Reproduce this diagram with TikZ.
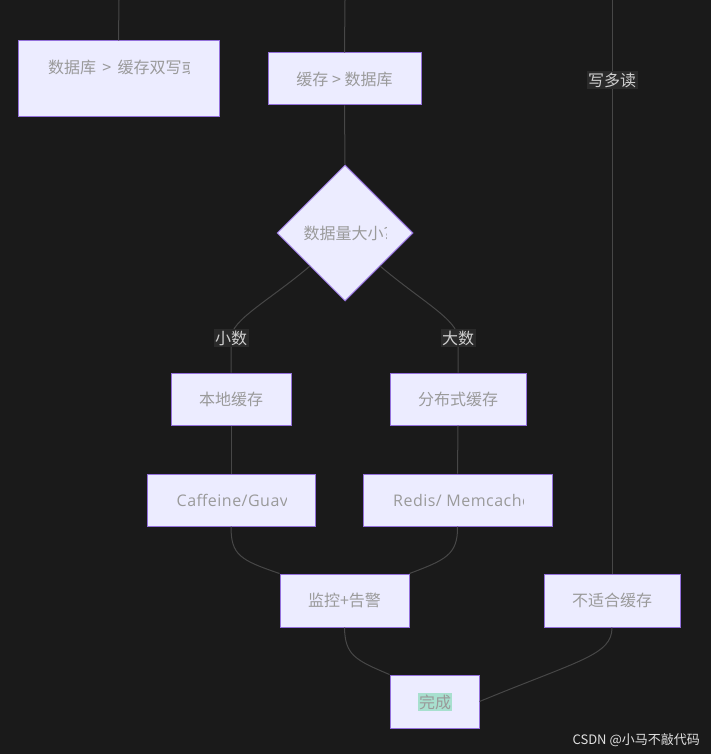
\documentclass[tikz,border=0pt]{standalone}
\usepackage{fontspec}
\setmainfont{Noto Sans CJK SC}
\newfontfamily\latinfont[LetterSpace=3]{Open Sans}
\usetikzlibrary{shapes.geometric}
\definecolor{bgc}{HTML}{1A1A1A}
\definecolor{boxfill}{HTML}{ECECFF}
\definecolor{boxline}{HTML}{9370DB}
\definecolor{txtc}{HTML}{9A9A9A}
\definecolor{edgec}{HTML}{474747}
\definecolor{lblbg}{HTML}{2A2A2A}
\definecolor{lbltxt}{HTML}{CFCFCF}
\definecolor{donebg}{HTML}{A8E0CF}
\tikzset{
  box/.style={draw=boxline, fill=boxfill, line width=1pt, rectangle, inner sep=0pt, text=txtc, font=\fontsize{16}{19}\selectfont},
  dia/.style={draw=boxline, fill=boxfill, line width=1pt, diamond, aspect=1, inner sep=0pt, minimum width=136pt, minimum height=136pt},
  txt/.style={text=txtc, font=\fontsize{16}{19}\selectfont, inner sep=0pt},
  lbl/.style={fill=lblbg, text=lbltxt, font=\fontsize{16}{19}\selectfont, inner sep=1.5pt},
  edge/.style={draw=edgec, line width=1pt},
}
\begin{document}
\begin{tikzpicture}[x=1pt, y=-1pt]
\useasboundingbox (0,0) rectangle (711,754);
\fill[bgc] (0,0) rectangle (711,754);
% top free ends
\coordinate (t1) at (119,0);
\coordinate (t2) at (345,0);
\coordinate (t3) at (612,0);
% nodes
\node[box, minimum width=201pt, minimum height=76pt] (b1) at (118.5,79) {};
\node[box, minimum width=153pt, minimum height=52pt] (b2) at (344.5,79) {缓存 > 数据库};
\node[dia] (d) at (345,233) {};
\node[box, minimum width=120pt, minimum height=52pt] (local) at (231,399) {本地缓存};
\node[box, minimum width=136pt, minimum height=52pt] (dist) at (458,399) {分布式缓存};
\node[box, minimum width=168pt, minimum height=52pt] (caf) at (231,500) {};
\node[box, minimum width=189pt, minimum height=52pt] (red) at (457.5,500) {};
\node[box, minimum width=129pt, minimum height=53pt] (mon) at (344.5,600.5) {监控+告警};
\node[box, minimum width=136pt, minimum height=53pt] (nofit) at (612,600.5) {不适合缓存};
\node[box, minimum width=89pt, minimum height=53pt] (done) at (434.5,701.5) {};
% clipped texts
\begin{scope}
\clip (40,55) rectangle (189.5,85);
\node[txt, anchor=west] (t1txt) at (48,67) {数据库 \,>\, 缓存双写或};
\end{scope}
\begin{scope}
\clip (295,218) rectangle (386,248);
\node[txt, anchor=west] (dtxt) at (303.5,233) {数据量大小?};
\end{scope}
\begin{scope}
\clip (170,485) rectangle (286,515);
\node[txt, anchor=west, font=\latinfont\fontsize{16}{19}\selectfont] (caftxt) at (176.5,500) {Caffeine/Guava};
\end{scope}
\begin{scope}
\clip (385,485) rectangle (523.5,515);
\node[txt, anchor=west, font=\latinfont\fontsize{16}{19}\selectfont] (redtxt) at (393,500) {Redis/ Memcached};
\end{scope}
\node[txt, fill=donebg, inner xsep=1pt, inner ysep=1.5pt] (donelbl) at (435,702) {完成};
% edges
\draw[edge] (t1) -- (b1.north);
\draw[edge] (t2) -- (b2.north);
\draw[edge] (b2.south) -- (d.north);
\coordinate (l1) at (231,338);
\coordinate (l2) at (458,338);
\draw[edge] (310,266) .. controls (270,300) and (231,320) .. (l1) -- (local.north);
\draw[edge] (380,266) .. controls (420,300) and (458,320) .. (l2) -- (dist.north);
\draw[edge] (local.south) -- (caf.north);
\draw[edge] (dist.south) -- (red.north);
\draw[edge] (caf.south) .. controls (231,555) and (240,560) .. (mon.north west);
\draw[edge] (red.south) .. controls (458,555) and (445,560) .. (mon.north east);
\draw[edge] (mon.south) .. controls (345,655) and (355,660) .. (done.north west);
\draw[edge] (nofit.south) .. controls (612,655) and (580,660) .. (done.east);
\draw[edge] (t3) -- (nofit.north);
% edge labels
\node[lbl] (lsmall) at (l1) {小数};
\node[lbl] (lbig) at (l2) {大数};
\node[lbl] (lwr) at (612,80) {写多读};
% watermark
\node[text=white!88!black, font=\fontsize{13}{15}\selectfont, anchor=east, inner sep=0pt] (wm) at (700,740) {CSDN @小马不敲代码};
\end{tikzpicture}
\end{document}
